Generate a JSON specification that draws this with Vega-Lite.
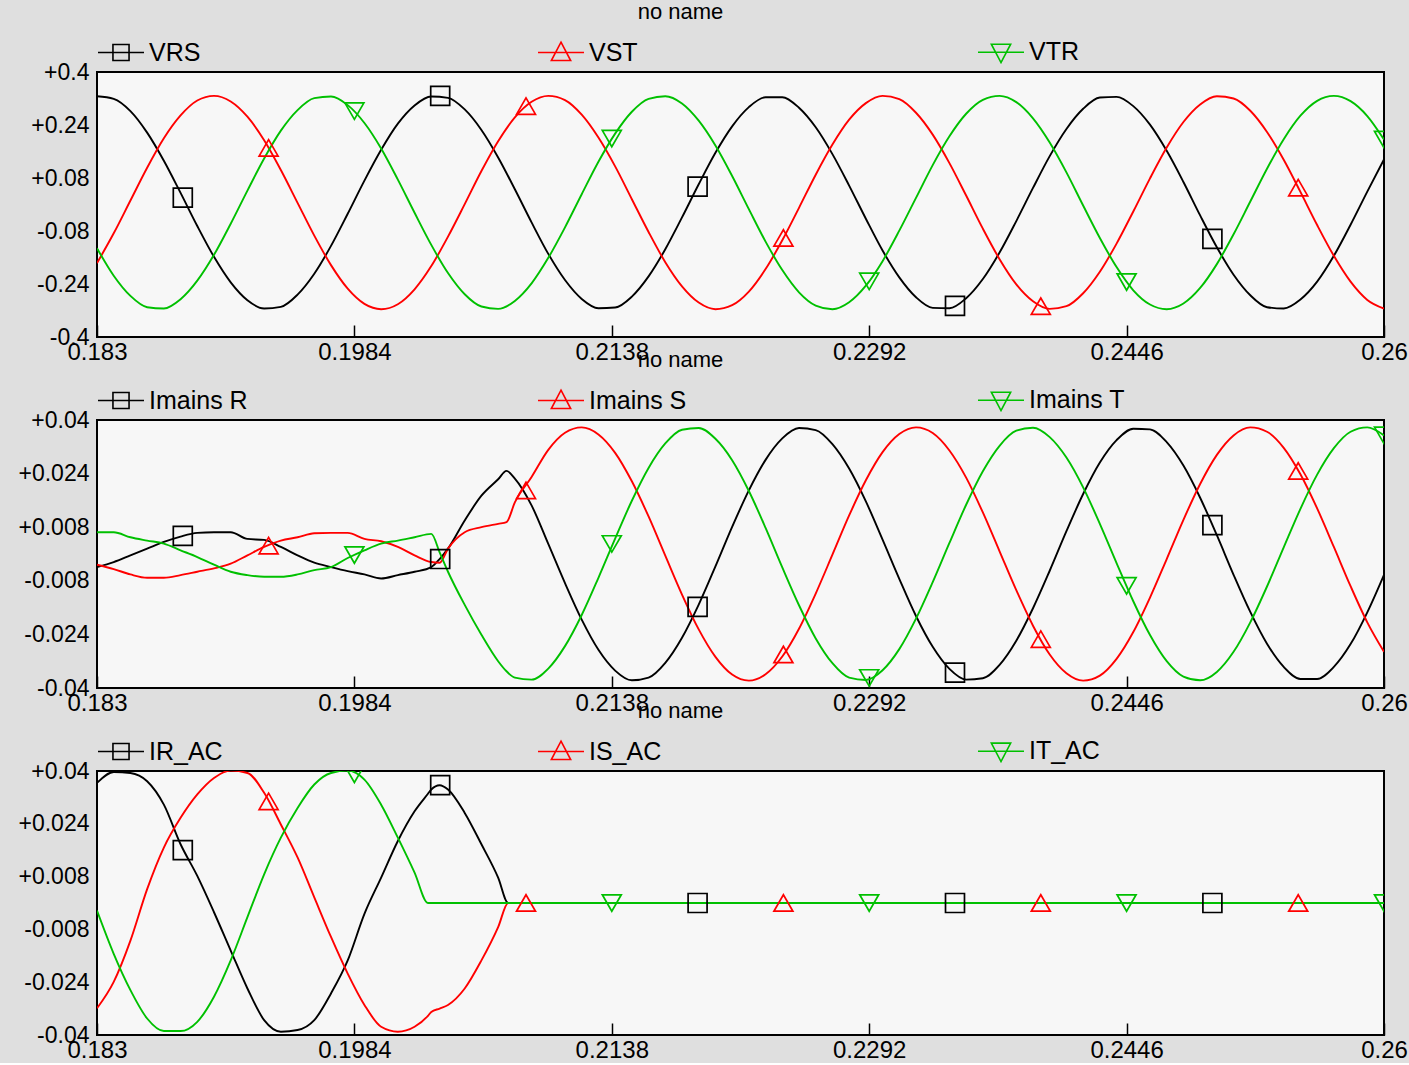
{
"$schema": "https://vega.github.io/schema/vega-lite/v6.json",
"background": "#dfdfdf",
"padding": {"left": 17, "top": 0, "right": 4, "bottom": 0},
"spacing": -17,
"resolve": {"scale": {"color": "independent", "stroke": "independent", "shape": "independent"}, "legend": {"color": "independent", "stroke": "independent", "shape": "independent"}},
"config": {
  "font": "Liberation Sans",
  "view": {"fill": "#f7f7f7", "stroke": "#000000", "strokeWidth": 2},
  "axis": {"labelFont": "Liberation Sans", "labelFontSize": 23, "labelColor": "#000000", "domain": false, "grid": false, "labelFlush": false, "labelOverlap": false, "title": null},
  "axisX": {"labelFontSize": 24},
  "legend": {"labelFont": "Liberation Sans", "labelFontSize": 25, "labelColor": "#000000", "symbolStrokeWidth": 1.5},
  "title": {"font": "Liberation Sans", "fontSize": 22, "fontWeight": "normal", "color": "#000000", "anchor": "middle", "frame": "group", "dx": -60, "offset": 0}
},
"datasets": {
"v": [
{"t":0.183,"VRS":0.327,"VST":-0.177,"VTR":-0.132},
{"t":0.184,"VRS":0.319,"VST":-0.087,"VTR":-0.215},
{"t":0.185,"VRS":0.282,"VST":0.012,"VTR":-0.276},
{"t":0.186,"VRS":0.217,"VST":0.111,"VTR":-0.310},
{"t":0.187,"VRS":0.132,"VST":0.200,"VTR":-0.314},
{"t":0.188,"VRS":0.035,"VST":0.269,"VTR":-0.286},
{"t":0.189,"VRS":-0.065,"VST":0.314,"VTR":-0.230},
{"t":0.190,"VRS":-0.158,"VST":0.328,"VTR":-0.152},
{"t":0.191,"VRS":-0.235,"VST":0.311,"VTR":-0.058},
{"t":0.192,"VRS":-0.289,"VST":0.265,"VTR":0.042},
{"t":0.193,"VRS":-0.314,"VST":0.194,"VTR":0.139},
{"t":0.194,"VRS":-0.309,"VST":0.104,"VTR":0.223},
{"t":0.195,"VRS":-0.272,"VST":0.005,"VTR":0.285},
{"t":0.196,"VRS":-0.209,"VST":-0.094,"VTR":0.321},
{"t":0.197,"VRS":-0.125,"VST":-0.183,"VTR":0.326},
{"t":0.198,"VRS":-0.028,"VST":-0.254,"VTR":0.300},
{"t":0.199,"VRS":0.072,"VST":-0.300,"VTR":0.246},
{"t":0.200,"VRS":0.165,"VST":-0.316,"VTR":0.169},
{"t":0.201,"VRS":0.244,"VST":-0.301,"VTR":0.075},
{"t":0.202,"VRS":0.299,"VST":-0.256,"VTR":-0.025},
{"t":0.203,"VRS":0.326,"VST":-0.186,"VTR":-0.122},
{"t":0.204,"VRS":0.322,"VST":-0.097,"VTR":-0.207},
{"t":0.205,"VRS":0.287,"VST":0.001,"VTR":-0.271},
{"t":0.206,"VRS":0.225,"VST":0.101,"VTR":-0.308},
{"t":0.207,"VRS":0.142,"VST":0.191,"VTR":-0.315},
{"t":0.208,"VRS":0.046,"VST":0.263,"VTR":-0.291},
{"t":0.209,"VRS":-0.054,"VST":0.310,"VTR":-0.238},
{"t":0.210,"VRS":-0.149,"VST":0.328,"VTR":-0.161},
{"t":0.211,"VRS":-0.228,"VST":0.315,"VTR":-0.069},
{"t":0.212,"VRS":-0.285,"VST":0.271,"VTR":0.031},
{"t":0.213,"VRS":-0.313,"VST":0.202,"VTR":0.129},
{"t":0.214,"VRS":-0.311,"VST":0.115,"VTR":0.214},
{"t":0.215,"VRS":-0.278,"VST":0.016,"VTR":0.280},
{"t":0.216,"VRS":-0.217,"VST":-0.083,"VTR":0.319},
{"t":0.217,"VRS":-0.135,"VST":-0.174,"VTR":0.327},
{"t":0.218,"VRS":-0.039,"VST":-0.247,"VTR":0.305},
{"t":0.219,"VRS":0.061,"VST":-0.296,"VTR":0.253},
{"t":0.220,"VRS":0.156,"VST":-0.316,"VTR":0.178},
{"t":0.221,"VRS":0.236,"VST":-0.304,"VTR":0.086},
{"t":0.222,"VRS":0.294,"VST":-0.263,"VTR":-0.014},
{"t":0.223,"VRS":0.324,"VST":-0.195,"VTR":-0.112},
{"t":0.224,"VRS":0.324,"VST":-0.108,"VTR":-0.198},
{"t":0.225,"VRS":0.292,"VST":-0.010,"VTR":-0.265},
{"t":0.226,"VRS":0.233,"VST":0.090,"VTR":-0.305},
{"t":0.227,"VRS":0.152,"VST":0.181,"VTR":-0.316},
{"t":0.228,"VRS":0.057,"VST":0.256,"VTR":-0.295},
{"t":0.229,"VRS":-0.043,"VST":0.306,"VTR":-0.245},
{"t":0.230,"VRS":-0.139,"VST":0.328,"VTR":-0.171},
{"t":0.231,"VRS":-0.220,"VST":0.318,"VTR":-0.079},
{"t":0.232,"VRS":-0.280,"VST":0.277,"VTR":0.020},
{"t":0.233,"VRS":-0.312,"VST":0.211,"VTR":0.119},
{"t":0.234,"VRS":-0.313,"VST":0.125,"VTR":0.206},
{"t":0.235,"VRS":-0.283,"VST":0.027,"VTR":0.274},
{"t":0.236,"VRS":-0.225,"VST":-0.073,"VTR":0.316},
{"t":0.237,"VRS":-0.145,"VST":-0.165,"VTR":0.328},
{"t":0.238,"VRS":-0.050,"VST":-0.241,"VTR":0.309},
{"t":0.239,"VRS":0.050,"VST":-0.292,"VTR":0.260},
{"t":0.240,"VRS":0.146,"VST":-0.315,"VTR":0.187},
{"t":0.241,"VRS":0.228,"VST":-0.307,"VTR":0.097},
{"t":0.242,"VRS":0.289,"VST":-0.268,"VTR":-0.003},
{"t":0.243,"VRS":0.323,"VST":-0.203,"VTR":-0.101},
{"t":0.244,"VRS":0.325,"VST":-0.118,"VTR":-0.189},
{"t":0.245,"VRS":0.297,"VST":-0.021,"VTR":-0.259},
{"t":0.246,"VRS":0.241,"VST":0.079,"VTR":-0.302},
{"t":0.247,"VRS":0.162,"VST":0.172,"VTR":-0.316},
{"t":0.248,"VRS":0.068,"VST":0.249,"VTR":-0.299},
{"t":0.249,"VRS":-0.033,"VST":0.302,"VTR":-0.252},
{"t":0.250,"VRS":-0.129,"VST":0.327,"VTR":-0.180},
{"t":0.251,"VRS":-0.212,"VST":0.320,"VTR":-0.090},
{"t":0.252,"VRS":-0.274,"VST":0.283,"VTR":0.009},
{"t":0.253,"VRS":-0.310,"VST":0.219,"VTR":0.108},
{"t":0.254,"VRS":-0.314,"VST":0.135,"VTR":0.197},
{"t":0.255,"VRS":-0.287,"VST":0.038,"VTR":0.268},
{"t":0.256,"VRS":-0.233,"VST":-0.062,"VTR":0.313},
{"t":0.257,"VRS":-0.155,"VST":-0.155,"VTR":0.328},
{"t":0.258,"VRS":-0.061,"VST":-0.233,"VTR":0.312},
{"t":0.259,"VRS":0.039,"VST":-0.288,"VTR":0.267},
{"t":0.260,"VRS":0.136,"VST":-0.314,"VTR":0.196}
],
"vm": [
{"t":0.188133,"s":"VRS","v":0.021},
{"t":0.193267,"s":"VST","v":0.171},
{"t":0.1984,"s":"VTR","v":0.282},
{"t":0.203533,"s":"VRS","v":0.328},
{"t":0.208667,"s":"VST","v":0.297},
{"t":0.2138,"s":"VTR","v":0.199},
{"t":0.218933,"s":"VRS","v":0.054},
{"t":0.224067,"s":"VST","v":-0.101},
{"t":0.2292,"s":"VTR","v":-0.232},
{"t":0.234333,"s":"VRS","v":-0.306},
{"t":0.239467,"s":"VST","v":-0.307},
{"t":0.2446,"s":"VTR","v":-0.234},
{"t":0.249733,"s":"VRS","v":-0.104},
{"t":0.254867,"s":"VST","v":0.051},
{"t":0.26,"s":"VTR","v":0.196}
],
"im": [
{"t":0.183,"R":-0.0039,"S":-0.0032,"T":0.0065},
{"t":0.184,"R":-0.0024,"S":-0.0045,"T":0.0065},
{"t":0.185,"R":-0.0004,"S":-0.0061,"T":0.0050},
{"t":0.186,"R":0.0016,"S":-0.0071,"T":0.0040},
{"t":0.187,"R":0.0036,"S":-0.0071,"T":0.0031},
{"t":0.188,"R":0.0052,"S":-0.0063,"T":0.0011},
{"t":0.189,"R":0.0063,"S":-0.0053,"T":-0.0009},
{"t":0.190,"R":0.0065,"S":-0.0043,"T":-0.0032},
{"t":0.191,"R":0.0065,"S":-0.0029,"T":-0.0053},
{"t":0.192,"R":0.0045,"S":-0.0004,"T":-0.0063},
{"t":0.193,"R":0.0042,"S":0.0021,"T":-0.0068},
{"t":0.194,"R":0.0021,"S":0.0040,"T":-0.0068},
{"t":0.195,"R":-0.0004,"S":0.0050,"T":-0.0061},
{"t":0.196,"R":-0.0026,"S":0.0062,"T":-0.0048},
{"t":0.197,"R":-0.0039,"S":0.0063,"T":-0.0039},
{"t":0.198,"R":-0.0051,"S":0.0063,"T":-0.0012},
{"t":0.199,"R":-0.0061,"S":0.0045,"T":0.0011},
{"t":0.200,"R":-0.0073,"S":0.0038,"T":0.0031},
{"t":0.201,"R":-0.0063,"S":0.0021,"T":0.0040},
{"t":0.202,"R":-0.0053,"S":-0.0004,"T":0.0050},
{"t":0.203,"R":-0.0039,"S":-0.0024,"T":0.0060},
{"t":0.2035,"R":-0.0015,"S":-0.0026,"T":0.0005},
{"t":0.204,"R":0.0016,"S":0.0016,"T":-0.0053},
{"t":0.205,"R":0.0100,"S":0.0065,"T":-0.0152},
{"t":0.206,"R":0.0174,"S":0.0080,"T":-0.0241},
{"t":0.207,"R":0.0223,"S":0.0090,"T":-0.0320},
{"t":0.2075,"R":0.0248,"S":0.0095,"T":-0.0350},
{"t":0.208,"R":0.0225,"S":0.0154,"T":-0.0369},
{"t":0.209,"R":0.0145,"S":0.0230,"T":-0.0375},
{"t":0.210,"R":0.0030,"S":0.0311,"T":-0.0342},
{"t":0.211,"R":-0.0087,"S":0.0362,"T":-0.0275},
{"t":0.212,"R":-0.0196,"S":0.0378,"T":-0.0182},
{"t":0.213,"R":-0.0286,"S":0.0357,"T":-0.0071},
{"t":0.214,"R":-0.0348,"S":0.0302,"T":0.0046},
{"t":0.215,"R":-0.0377,"S":0.0217,"T":0.0159},
{"t":0.216,"R":-0.0369,"S":0.0112,"T":0.0257},
{"t":0.217,"R":-0.0325,"S":-0.0005,"T":0.0330},
{"t":0.218,"R":-0.0250,"S":-0.0121,"T":0.0371},
{"t":0.219,"R":-0.0151,"S":-0.0225,"T":0.0376},
{"t":0.220,"R":-0.0037,"S":-0.0307,"T":0.0344},
{"t":0.221,"R":0.0081,"S":-0.0360,"T":0.0280},
{"t":0.222,"R":0.0190,"S":-0.0378,"T":0.0188},
{"t":0.223,"R":0.0281,"S":-0.0359,"T":0.0078},
{"t":0.224,"R":0.0345,"S":-0.0306,"T":-0.0040},
{"t":0.225,"R":0.0376,"S":-0.0223,"T":-0.0153},
{"t":0.226,"R":0.0370,"S":-0.0118,"T":-0.0252},
{"t":0.227,"R":0.0328,"S":-0.0002,"T":-0.0326},
{"t":0.228,"R":0.0255,"S":0.0115,"T":-0.0369},
{"t":0.229,"R":0.0157,"S":0.0220,"T":-0.0376},
{"t":0.230,"R":0.0043,"S":0.0304,"T":-0.0347},
{"t":0.231,"R":-0.0074,"S":0.0358,"T":-0.0284},
{"t":0.232,"R":-0.0185,"S":0.0378,"T":-0.0193},
{"t":0.233,"R":-0.0277,"S":0.0361,"T":-0.0084},
{"t":0.234,"R":-0.0343,"S":0.0309,"T":0.0033},
{"t":0.235,"R":-0.0375,"S":0.0228,"T":0.0147},
{"t":0.236,"R":-0.0371,"S":0.0124,"T":0.0247},
{"t":0.237,"R":-0.0331,"S":0.0008,"T":0.0323},
{"t":0.238,"R":-0.0259,"S":-0.0108,"T":0.0368},
{"t":0.239,"R":-0.0162,"S":-0.0214,"T":0.0377},
{"t":0.240,"R":-0.0050,"S":-0.0300,"T":0.0349},
{"t":0.241,"R":0.0068,"S":-0.0356,"T":0.0288},
{"t":0.242,"R":0.0179,"S":-0.0378,"T":0.0199},
{"t":0.243,"R":0.0273,"S":-0.0363,"T":0.0090},
{"t":0.244,"R":0.0340,"S":-0.0313,"T":-0.0027},
{"t":0.245,"R":0.0374,"S":-0.0233,"T":-0.0141},
{"t":0.246,"R":0.0372,"S":-0.0130,"T":-0.0242},
{"t":0.247,"R":0.0334,"S":-0.0015,"T":-0.0320},
{"t":0.248,"R":0.0264,"S":0.0102,"T":-0.0366},
{"t":0.249,"R":0.0168,"S":0.0209,"T":-0.0377},
{"t":0.250,"R":0.0056,"S":0.0296,"T":-0.0352},
{"t":0.251,"R":-0.0062,"S":0.0354,"T":-0.0292},
{"t":0.252,"R":-0.0173,"S":0.0378,"T":-0.0204},
{"t":0.253,"R":-0.0268,"S":0.0365,"T":-0.0097},
{"t":0.254,"R":-0.0337,"S":0.0317,"T":0.0020},
{"t":0.255,"R":-0.0373,"S":0.0238,"T":0.0135},
{"t":0.256,"R":-0.0373,"S":0.0136,"T":0.0237},
{"t":0.257,"R":-0.0337,"S":0.0021,"T":0.0316},
{"t":0.258,"R":-0.0269,"S":-0.0096,"T":0.0365},
{"t":0.259,"R":-0.0174,"S":-0.0204,"T":0.0378},
{"t":0.260,"R":-0.0062,"S":-0.0292,"T":0.0354}
],
"imm": [
{"t":0.188133,"s":"R","v":0.0054},
{"t":0.193267,"s":"S","v":0.0025},
{"t":0.1984,"s":"T","v":-0.0003},
{"t":0.203533,"s":"R","v":-0.0015},
{"t":0.208667,"s":"S","v":0.019},
{"t":0.2138,"s":"T","v":0.003},
{"t":0.218933,"s":"R","v":-0.0158},
{"t":0.224067,"s":"S","v":-0.0300},
{"t":0.2292,"s":"T","v":-0.0370},
{"t":0.234333,"s":"R","v":-0.0354},
{"t":0.239467,"s":"S","v":-0.0254},
{"t":0.2446,"s":"T","v":-0.0095},
{"t":0.249733,"s":"R","v":0.0086},
{"t":0.254867,"s":"S","v":0.0248},
{"t":0.26,"s":"T","v":0.0354}
],
"ac": [
{"t":0.183,"IR_AC":0.0364,"IS_AC":-0.0319,"IT_AC":-0.0023},
{"t":0.184,"IR_AC":0.0397,"IS_AC":-0.0239,"IT_AC":-0.0154},
{"t":0.185,"IR_AC":0.0394,"IS_AC":-0.0114,"IT_AC":-0.0264},
{"t":0.186,"IR_AC":0.0369,"IS_AC":0.0042,"IT_AC":-0.0350},
{"t":0.187,"IR_AC":0.0298,"IS_AC":0.0168,"IT_AC":-0.0388},
{"t":0.188,"IR_AC":0.0178,"IS_AC":0.0258,"IT_AC":-0.0388},
{"t":0.189,"IR_AC":0.0082,"IS_AC":0.0329,"IT_AC":-0.0360},
{"t":0.190,"IR_AC":-0.0028,"IS_AC":0.0379,"IT_AC":-0.0284},
{"t":0.191,"IR_AC":-0.0144,"IS_AC":0.0401,"IT_AC":-0.0174},
{"t":0.192,"IR_AC":-0.0259,"IS_AC":0.0394,"IT_AC":-0.0043},
{"t":0.193,"IR_AC":-0.0355,"IS_AC":0.0334,"IT_AC":0.0087},
{"t":0.194,"IR_AC":-0.0390,"IS_AC":0.0238,"IT_AC":0.0198},
{"t":0.195,"IR_AC":-0.0385,"IS_AC":0.0138,"IT_AC":0.0288},
{"t":0.196,"IR_AC":-0.0355,"IS_AC":0.0017,"IT_AC":0.0359},
{"t":0.197,"IR_AC":-0.0274,"IS_AC":-0.0103,"IT_AC":0.0394},
{"t":0.198,"IR_AC":-0.0174,"IS_AC":-0.0214,"IT_AC":0.0401},
{"t":0.199,"IR_AC":-0.0033,"IS_AC":-0.0309,"IT_AC":0.0374},
{"t":0.200,"IR_AC":0.0077,"IS_AC":-0.0375,"IT_AC":0.0298},
{"t":0.201,"IR_AC":0.0188,"IS_AC":-0.0390,"IT_AC":0.0198},
{"t":0.202,"IR_AC":0.0278,"IS_AC":-0.0375,"IT_AC":0.0092},
{"t":0.2028,"IR_AC":0.0331,"IS_AC":-0.0342,"IT_AC":0},
{"t":0.203,"IR_AC":0.0344,"IS_AC":-0.0330,"IT_AC":0},
{"t":0.2035,"IR_AC":0.0357,"IS_AC":-0.0320,"IT_AC":0},
{"t":0.204,"IR_AC":0.0344,"IS_AC":-0.0309,"IT_AC":0},
{"t":0.205,"IR_AC":0.0273,"IS_AC":-0.0259,"IT_AC":0},
{"t":0.206,"IR_AC":0.0178,"IS_AC":-0.0174,"IT_AC":0},
{"t":0.207,"IR_AC":0.0077,"IS_AC":-0.0073,"IT_AC":0},
{"t":0.2076,"IR_AC":0,"IS_AC":0,"IT_AC":0},
{"t":0.26,"IR_AC":0,"IS_AC":0,"IT_AC":0}
],
"acm": [
{"t":0.188133,"s":"IR_AC","v":0.016},
{"t":0.193267,"s":"IS_AC","v":0.0308},
{"t":0.1984,"s":"IT_AC","v":0.039},
{"t":0.203533,"s":"IR_AC","v":0.0357},
{"t":0.208667,"s":"IS_AC","v":0},
{"t":0.2138,"s":"IT_AC","v":0},
{"t":0.218933,"s":"IR_AC","v":0},
{"t":0.224067,"s":"IS_AC","v":0},
{"t":0.2292,"s":"IT_AC","v":0},
{"t":0.234333,"s":"IR_AC","v":0},
{"t":0.239467,"s":"IS_AC","v":0},
{"t":0.2446,"s":"IT_AC","v":0},
{"t":0.249733,"s":"IR_AC","v":0},
{"t":0.254867,"s":"IS_AC","v":0},
{"t":0.26,"s":"IT_AC","v":0}
]
},
"vconcat": [
{
 "width": 1287, "height": 265,
 "title": {"text": "no name"},
 "layer": [
  {"data": {"name": "v"},
   "transform": [{"fold": ["VRS","VST","VTR"], "as": ["series","value"]}],
   "mark": {"type": "line", "interpolate": "monotone", "strokeWidth": 1.9, "clip": true},
   "encoding": {
     "x": {"field": "t", "type": "quantitative", "scale": {"domain": [0.183,0.26], "nice": false, "zero": false},
           "axis": {"values": [0.183,0.1984,0.2138,0.2292,0.2446,0.26], "labelExpr": "'' + datum.value", "tickSize": -12, "tickColor": "#000000", "tickWidth": 1.5, "labelPadding": 15}},
     "y": {"field": "value", "type": "quantitative", "scale": {"domain": [-0.4,0.4], "nice": false, "zero": false},
           "axis": {"values": [-0.4,-0.24,-0.08,0.08,0.24,0.4], "labelExpr": "(datum.value > 0 ? '+' : '') + datum.value", "ticks": false, "labelPadding": 8}},
     "color": {"field": "series", "type": "nominal", "scale": {"domain": ["VRS","VST","VTR"], "range": ["#000000","#ff0000","#00c000"]},
       "legend": {"title": null, "orient": "top", "direction": "horizontal", "columns": 3, "gridAlign": "all", "columnPadding": 333, "symbolSize": 2116, "labelOffset": 4, "offset": 6,
         "encode": {"symbols": {"update": {"shape": {"signal": "datum.value === 'VRS' ? 'M-1,0H1M-0.35,-0.35H0.35V0.35H-0.35Z' : datum.value === 'VST' ? 'M-1,0H1M0,-0.45L0.42,0.35H-0.42Z' : 'M-1,0H1M-0.42,-0.35H0.42L0,0.45Z'"}, "fill": {"value": "transparent"}, "strokeWidth": {"value": 1.6}}}}}}
   }},
  {"data": {"name": "vm"},
   "mark": {"type": "point", "filled": false, "size": 360, "strokeWidth": 1.7, "clip": true, "opacity": 1},
   "encoding": {
     "x": {"field": "t", "type": "quantitative", "scale": {"domain": [0.183,0.26], "nice": false, "zero": false}},
     "y": {"field": "v", "type": "quantitative", "scale": {"domain": [-0.4,0.4], "nice": false, "zero": false}},
     "stroke": {"field": "s", "type": "nominal", "scale": {"domain": ["VTR","VRS","VST"], "range": ["#00c000","#000000","#ff0000"]}, "legend": null},
     "shape": {"field": "s", "type": "nominal", "scale": {"domain": ["VST","VTR","VRS"], "range": ["triangle-up","triangle-down","square"]}, "legend": null}
   }}
 ]
},
{
 "width": 1287, "height": 268,
 "title": {"text": "no name"},
 "layer": [
  {"data": {"name": "im"},
   "transform": [{"fold": ["R","S","T"], "as": ["series","value"]}],
   "mark": {"type": "line", "interpolate": "monotone", "strokeWidth": 1.9, "clip": true},
   "encoding": {
     "x": {"field": "t", "type": "quantitative", "scale": {"domain": [0.183,0.26], "nice": false, "zero": false},
           "axis": {"values": [0.183,0.1984,0.2138,0.2292,0.2446,0.26], "labelExpr": "'' + datum.value", "tickSize": -12, "tickColor": "#000000", "tickWidth": 1.5, "labelPadding": 15}},
     "y": {"field": "value", "type": "quantitative", "scale": {"domain": [-0.04,0.04], "nice": false, "zero": false},
           "axis": {"values": [-0.04,-0.024,-0.008,0.008,0.024,0.04], "labelExpr": "(datum.value > 0 ? '+' : '') + datum.value", "ticks": false, "labelPadding": 8}},
     "color": {"field": "series", "type": "nominal", "scale": {"domain": ["R","S","T"], "range": ["#000000","#ff0000","#00c000"]},
       "legend": {"title": null, "orient": "top", "direction": "horizontal", "columns": 3, "gridAlign": "all", "columnPadding": 286, "symbolSize": 2116, "labelOffset": 4, "offset": 6, "labelExpr": "'Imains ' + datum.label",
         "encode": {"symbols": {"update": {"shape": {"signal": "datum.value === 'R' ? 'M-1,0H1M-0.35,-0.35H0.35V0.35H-0.35Z' : datum.value === 'S' ? 'M-1,0H1M0,-0.45L0.42,0.35H-0.42Z' : 'M-1,0H1M-0.42,-0.35H0.42L0,0.45Z'"}, "fill": {"value": "transparent"}, "strokeWidth": {"value": 1.6}}}}}}
   }},
  {"data": {"name": "imm"},
   "mark": {"type": "point", "filled": false, "size": 360, "strokeWidth": 1.7, "clip": true, "opacity": 1},
   "encoding": {
     "x": {"field": "t", "type": "quantitative", "scale": {"domain": [0.183,0.26], "nice": false, "zero": false}},
     "y": {"field": "v", "type": "quantitative", "scale": {"domain": [-0.04,0.04], "nice": false, "zero": false}},
     "stroke": {"field": "s", "type": "nominal", "scale": {"domain": ["T","R","S"], "range": ["#00c000","#000000","#ff0000"]}, "legend": null},
     "shape": {"field": "s", "type": "nominal", "scale": {"domain": ["S","T","R"], "range": ["triangle-up","triangle-down","square"]}, "legend": null}
   }},
  {"mark": {"type": "rule", "color": "#000000", "strokeWidth": 1.6},
   "encoding": {"y": {"datum": 0, "type": "quantitative"}}}
 ]
},
{
 "width": 1287, "height": 264,
 "title": {"text": "no name"},
 "layer": [
  {"data": {"name": "ac"},
   "transform": [{"fold": ["IR_AC","IS_AC","IT_AC"], "as": ["series","value"]}],
   "mark": {"type": "line", "interpolate": "monotone", "strokeWidth": 1.9, "clip": true},
   "encoding": {
     "x": {"field": "t", "type": "quantitative", "scale": {"domain": [0.183,0.26], "nice": false, "zero": false},
           "axis": {"values": [0.183,0.1984,0.2138,0.2292,0.2446,0.26], "labelExpr": "'' + datum.value", "tickSize": -12, "tickColor": "#000000", "tickWidth": 1.5, "labelPadding": 15}},
     "y": {"field": "value", "type": "quantitative", "scale": {"domain": [-0.04,0.04], "nice": false, "zero": false},
           "axis": {"values": [-0.04,-0.024,-0.008,0.008,0.024,0.04], "labelExpr": "(datum.value > 0 ? '+' : '') + datum.value", "ticks": false, "labelPadding": 8}},
     "color": {"field": "series", "type": "nominal", "scale": {"domain": ["IR_AC","IS_AC","IT_AC"], "range": ["#000000","#ff0000","#00c000"]},
       "legend": {"title": null, "orient": "top", "direction": "horizontal", "columns": 3, "gridAlign": "all", "columnPadding": 311, "symbolSize": 2116, "labelOffset": 4, "offset": 6,
         "encode": {"symbols": {"update": {"shape": {"signal": "datum.value === 'IR_AC' ? 'M-1,0H1M-0.35,-0.35H0.35V0.35H-0.35Z' : datum.value === 'IS_AC' ? 'M-1,0H1M0,-0.45L0.42,0.35H-0.42Z' : 'M-1,0H1M-0.42,-0.35H0.42L0,0.45Z'"}, "fill": {"value": "transparent"}, "strokeWidth": {"value": 1.6}}}}}}
   }},
  {"data": {"name": "acm"},
   "mark": {"type": "point", "filled": false, "size": 360, "strokeWidth": 1.7, "clip": true, "opacity": 1},
   "encoding": {
     "x": {"field": "t", "type": "quantitative", "scale": {"domain": [0.183,0.26], "nice": false, "zero": false}},
     "y": {"field": "v", "type": "quantitative", "scale": {"domain": [-0.04,0.04], "nice": false, "zero": false}},
     "stroke": {"field": "s", "type": "nominal", "scale": {"domain": ["IT_AC","IR_AC","IS_AC"], "range": ["#00c000","#000000","#ff0000"]}, "legend": null},
     "shape": {"field": "s", "type": "nominal", "scale": {"domain": ["IS_AC","IT_AC","IR_AC"], "range": ["triangle-up","triangle-down","square"]}, "legend": null}
   }}
 ]
}
]
}
